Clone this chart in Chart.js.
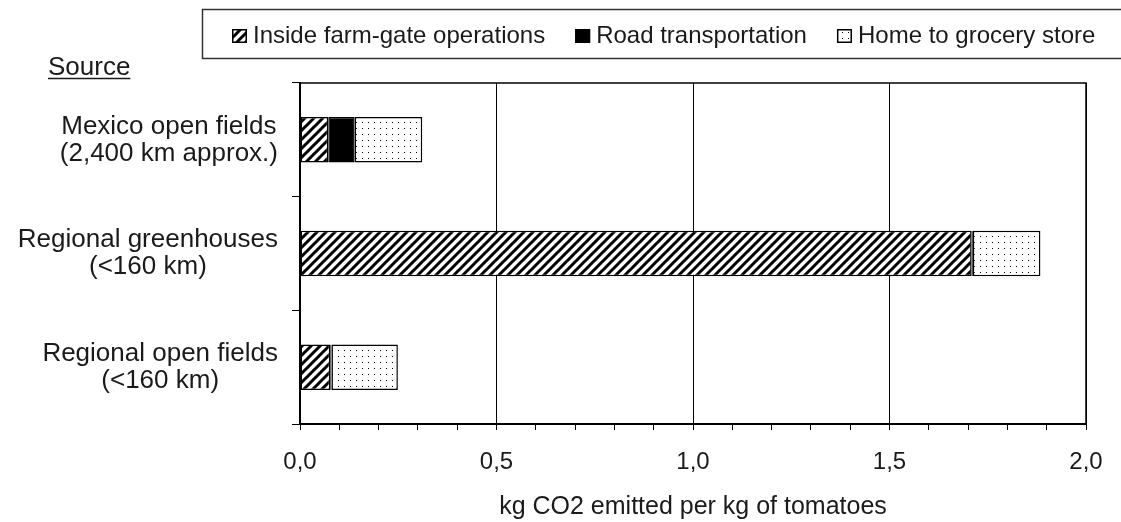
<!DOCTYPE html>
<html>
<head>
<meta charset="utf-8">
<script src="https://cdn.jsdelivr.net/npm/chart.js@4.4.0/dist/chart.umd.min.js"></script>
<style>
	html, body { margin: 0; padding: 0; background: #fff; }
	#wrap { width: 1121px; height: 522px; }
</style>
</head>
<body>
<div id="wrap"><canvas id="chart" width="1121" height="522"></canvas></div>
<script>
// data
const sources = [
	['Mexico open fields', '(2,400 km approx.)'],
	['Regional greenhouses', '(<160 km)'],
	['Regional open fields', '(<160 km)'],
];
const farmGate = [0.072, 1.709, 0.077];
const roadTransport = [0.067, 0.003, 0.003];
const homeToStore = [0.172, 0.172, 0.169];
const xTickLabels = ['0,0', '0,5', '1,0', '1,5', '2,0'];

const FONT = '"Liberation Sans", Arial, sans-serif';
const TEXT = '#1a1a1a';

const canvas = document.querySelector('#chart');
const chart2d = canvas.getContext('2d');

// fill patterns: diagonal hatch and fine dots
function hatchPattern() {
	const c = document.createElement('canvas');
	c.width = 9;
	c.height = 9;
	const g = c.getContext('2d');
	g.fillStyle = '#fff';
	g.fillRect(0, 0, 9, 9);
	g.strokeStyle = '#000';
	g.lineWidth = 3;
	g.beginPath();
	g.moveTo(-2, 11); g.lineTo(11, -2);
	g.moveTo(-2, 2); g.lineTo(2, -2);
	g.moveTo(7, 11); g.lineTo(11, 7);
	g.stroke();
	return chart2d.createPattern(c, 'repeat');
}

function dotPattern() {
	const c = document.createElement('canvas');
	c.width = 6;
	c.height = 6;
	const g = c.getContext('2d');
	g.fillStyle = '#fff';
	g.fillRect(0, 0, 6, 6);
	g.fillStyle = '#000';
	g.fillRect(2, 2, 1, 1);
	return chart2d.createPattern(c, 'repeat');
}

const isMajor = (v) => Math.round(v * 10) % 5 === 0;

// frame, category labels, "Source" heading and the boxed legend
const decor = {
	id: 'decor',
	afterDraw(chart) {
		const ctx = chart.ctx;
		const area = chart.chartArea;
		const yScale = chart.scales.y;
		ctx.save();

		// top and right edges of the plot frame
		ctx.strokeStyle = '#000';
		ctx.lineWidth = 1.5;
		ctx.beginPath();
		ctx.moveTo(area.left, area.top);
		ctx.lineTo(area.right, area.top);
		ctx.lineTo(area.right, area.bottom);
		ctx.stroke();

		// category labels, each block right aligned, lines centred in it
		ctx.fillStyle = TEXT;
		ctx.font = '26px ' + FONT;
		ctx.textAlign = 'center';
		ctx.textBaseline = 'middle';
		sources.forEach((lines, i) => {
			const y = yScale.getPixelForValue(i);
			const w = Math.max(...lines.map((l) => ctx.measureText(l).width));
			const cx = area.left - 22 - w / 2;
			lines.forEach((l, j) => {
				ctx.fillText(l, cx, y + (j - (lines.length - 1) / 2) * 27);
			});
		});

		// underlined heading
		ctx.textAlign = 'left';
		ctx.textBaseline = 'alphabetic';
		ctx.fillText('Source', 48, 75);
		const sw = ctx.measureText('Source').width;
		ctx.strokeStyle = TEXT;
		ctx.lineWidth = 1.5;
		ctx.beginPath();
		ctx.moveTo(48, 78.5);
		ctx.lineTo(48 + sw, 78.5);
		ctx.stroke();

		// legend box
		ctx.strokeStyle = '#333';
		ctx.lineWidth = 1.5;
		ctx.strokeRect(202.5, 9.5, 1000, 49);
		ctx.font = '24px ' + FONT;
		ctx.textBaseline = 'middle';
		let x = 232;
		chart.data.datasets.forEach((ds) => {
			ctx.fillStyle = ds.backgroundColor;
			ctx.fillRect(x, 29, 15, 14);
			ctx.strokeStyle = '#000';
			ctx.lineWidth = 1.5;
			ctx.strokeRect(x + 0.75, 29.75, 13.5, 12.5);
			ctx.fillStyle = TEXT;
			ctx.fillText(ds.label, x + 21, 36);
			x += 21 + ctx.measureText(ds.label).width + 30;
		});

		ctx.restore();
	},
};

const barStyle = {
	borderColor: '#000',
	borderWidth: 1.5,
	borderSkipped: false,
	barPercentage: 0.4,
	categoryPercentage: 1.0,
};

new Chart(chart2d, {
	type: 'bar',
	data: {
		labels: sources,
		datasets: [
			{ label: 'Inside farm-gate operations', data: farmGate, backgroundColor: hatchPattern(), ...barStyle },
			{ label: 'Road transportation', data: roadTransport, backgroundColor: '#000', ...barStyle },
			{ label: 'Home to grocery store', data: homeToStore, backgroundColor: dotPattern(), ...barStyle },
		],
	},
	options: {
		indexAxis: 'y',
		responsive: false,
		animation: false,
		devicePixelRatio: 1,
		layout: { padding: { top: 83, right: 35, bottom: 0, left: 0 } },
		plugins: {
			legend: { display: false },
			tooltip: { enabled: false },
		},
		scales: {
			x: {
				stacked: true,
				min: 0,
				max: 2,
				ticks: {
					stepSize: 0.1,
					autoSkip: false,
					maxRotation: 0,
					padding: 18,
					color: TEXT,
					font: { family: FONT, size: 24 },
					callback: (v) => (isMajor(v) ? xTickLabels[Math.round(v * 2)] : ''),
				},
				grid: {
					color: (c) => (c.tick && isMajor(c.tick.value) ? '#000' : 'rgba(0,0,0,0)'),
					tickColor: '#000',
					tickLength: 6,
					lineWidth: 1,
				},
				border: { color: '#000', width: 2 },
				title: {
					display: true,
					text: 'kg CO2 emitted per kg of tomatoes',
					color: TEXT,
					font: { family: FONT, size: 25 },
					padding: { top: 0, bottom: 0 },
				},
				afterFit: (s) => { s.height = 98; },
			},
			y: {
				stacked: true,
				ticks: { display: false },
				grid: {
					offset: true,
					drawOnChartArea: false,
					color: '#000',
					tickLength: 8,
				},
				border: { color: '#000', width: 2 },
				afterFit: (s) => { s.width = 300; },
			},
		},
	},
	plugins: [decor],
});
</script>
</body>
</html>
